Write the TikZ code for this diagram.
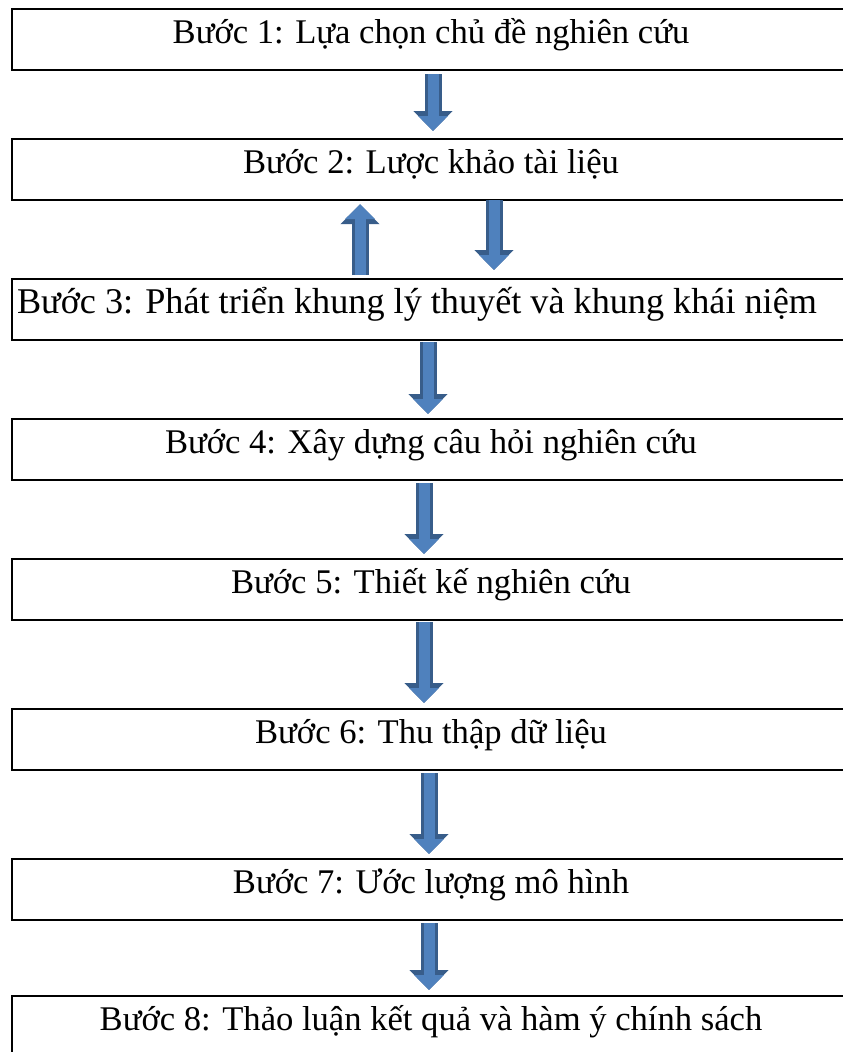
\documentclass[tikz,border=0pt]{standalone}
\usepackage{fontspec}
\setmainfont{Liberation Serif}
\usetikzlibrary{arrows.meta}
\definecolor{arrowfill}{HTML}{4F81BD}
\definecolor{arrowline}{HTML}{385D8A}
\tikzset{
  stepbox/.style={draw=black, line width=2.2pt, rectangle, anchor=north,
    minimum width=838pt, inner xsep=0pt, inner ysep=0pt,
    text height=34pt, text depth=27pt,
    font=\fontsize{34.6}{40}\selectfont},
  blockarrow/.style={line width=11pt, draw=arrowfill,
    -{Triangle[width=29pt,length=15pt]}, shorten >=3pt, shorten <=2pt,
    preaction={draw=arrowline, line width=17pt, -{Triangle[width=38pt,length=20pt]}}},
}
\begin{document}
\begin{tikzpicture}[x=1pt,y=-1pt]
\useasboundingbox (0,0) rectangle (843,1052);
\clip (0,0) rectangle (843,1052);
\fill[white] (0,0) rectangle (843,1052);
\node[stepbox] (b1) at (431,8) {Bước 1: Lựa chọn chủ đề nghiên cứu};
\node[stepbox] (b2) at (431,138) {Bước 2: Lược khảo tài liệu};
\node[stepbox, font=\fontsize{36.2}{42}\selectfont] (b3) at (431,278) {Bước 3: Phát triển khung lý thuyết và khung khái niệm\hspace*{28pt}};
\node[stepbox] (b4) at (431,418) {Bước 4: Xây dựng câu hỏi nghiên cứu};
\node[stepbox] (b5) at (431,558) {Bước 5: Thiết kế nghiên cứu};
\node[stepbox] (b6) at (431,708) {Bước 6: Thu thập dữ liệu};
\node[stepbox] (b7) at (431,858) {Bước 7: Ước lượng mô hình};
\node[stepbox] (b8) at (431,995) {Bước 8: Thảo luận kết quả và hàm ý chính sách};
\coordinate (x1) at (433,0);
\coordinate (x2) at (360,0);
\coordinate (x3) at (494,0);
\coordinate (x4) at (428,0);
\coordinate (x5) at (424,0);
\coordinate (x6) at (424,0);
\coordinate (x7) at (429,0);
\coordinate (x8) at (429,0);
\draw[blockarrow] ([yshift=-1pt]b1.south -| x1) -- ([yshift=4pt]b2.north -| x1);
\draw[blockarrow] ([yshift=1pt]b3.north -| x2) -- (b2.south -| x2);
\draw[blockarrow] ([yshift=3pt]b2.south -| x3) -- ([yshift=5pt]b3.north -| x3);
\draw[blockarrow] ([yshift=1pt]b3.south -| x4) -- ([yshift=1pt]b4.north -| x4);
\draw[blockarrow] (b4.south -| x5) -- ([yshift=1pt]b5.north -| x5);
\draw[blockarrow] ([yshift=1pt]b5.south -| x6) -- ([yshift=2pt]b6.north -| x6);
\draw[blockarrow] (b6.south -| x7) -- ([yshift=1pt]b7.north -| x7);
\draw[blockarrow] (b7.south -| x8) -- ([yshift=2pt]b8.north -| x8);
\end{tikzpicture}
\end{document}
